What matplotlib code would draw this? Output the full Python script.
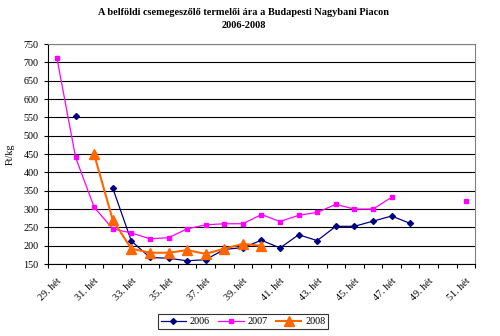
import numpy as np
import matplotlib
matplotlib.use("Agg")
import matplotlib.pyplot as plt

# weekly data, 29. - 51. het
weeks = list(range(29, 52))
nan = np.nan
prices_2006 = [nan, 555, nan, 357, 213, 168, 166, 159, 162, 190, 195, 215, 194, 230,
               214, 253, 253, 267, 281, 261, nan, nan, nan]
prices_2007 = [711, 441, 305, 246, 235, 219, 222, 246, 257, 260, 260, 285, 266, 283,
               291, 313, 300, 300, 332, nan, nan, nan, 321]
prices_2008 = [nan, nan, 449, 270, 192, 181, 181, 188, 178, 192, 205, 200, nan, nan,
               nan, nan, nan, nan, nan, nan, nan, nan, nan]
tick_labels = [f"{w}. hét" for w in weeks]

plt.rcParams['font.family'] = ['Liberation Serif', 'DejaVu Serif']

fig = plt.figure(figsize=(5, 3.36), dpi=100)
ax = fig.add_axes([0.0954, 0.214, 0.855, 0.655])

x = np.arange(len(weeks))
ax.plot(x, prices_2006, color='#000080', marker='D', markersize=3, linewidth=0.9, label='2006')
ax.plot(x, prices_2007, color='#FF00FF', marker='s', markersize=3.5, linewidth=0.9, label='2007')
ax.plot(x, prices_2008, color='#FF6600', marker='^', markersize=7, linewidth=1.5, label='2008')

ax.set_xlim(-0.5, len(weeks) - 0.5)
ax.set_ylim(150, 750)
ax.set_yticks(np.arange(150, 751, 50))
ax.yaxis.grid(True, color='black', linewidth=0.8)
ax.set_axisbelow(True)

ax.set_xticks(x[::2])
ax.set_xticklabels(tick_labels[::2], rotation=45, ha='right', va='top', rotation_mode='anchor')
ax.set_xticks(np.arange(-0.5, len(weeks), 1), minor=True)
ax.tick_params(axis='x', which='major', length=0, pad=9, labelsize=7.3)
ax.tick_params(axis='x', which='minor', length=3, width=0.8)
ax.tick_params(axis='y', length=3, width=0.8, labelsize=7.3)

for side in ['top', 'right']:
    ax.spines[side].set_color('#808080')
for side in ['left', 'bottom']:
    ax.spines[side].set_color('black')

ax.set_ylabel('Ft/kg', fontsize=7.3, labelpad=6)

fig.text(0.488, 0.962, 'A belföldi csemegeszőlő termelői ára a Budapesti Nagybani Piacon',
         ha='center', va='center', fontsize=7.4, fontweight='bold')
fig.text(0.488, 0.925, '2006-2008', ha='center', va='center', fontsize=7.4, fontweight='bold')

leg = fig.legend(loc='center', bbox_to_anchor=(0.486, 0.042), ncol=3, fontsize=7.3,
                 frameon=True, fancybox=False, edgecolor='black', handlelength=2.5,
                 columnspacing=0.8, handletextpad=0.4, borderpad=0.3)
leg.get_frame().set_linewidth(0.8)

fig.savefig('out.png', dpi=100)
